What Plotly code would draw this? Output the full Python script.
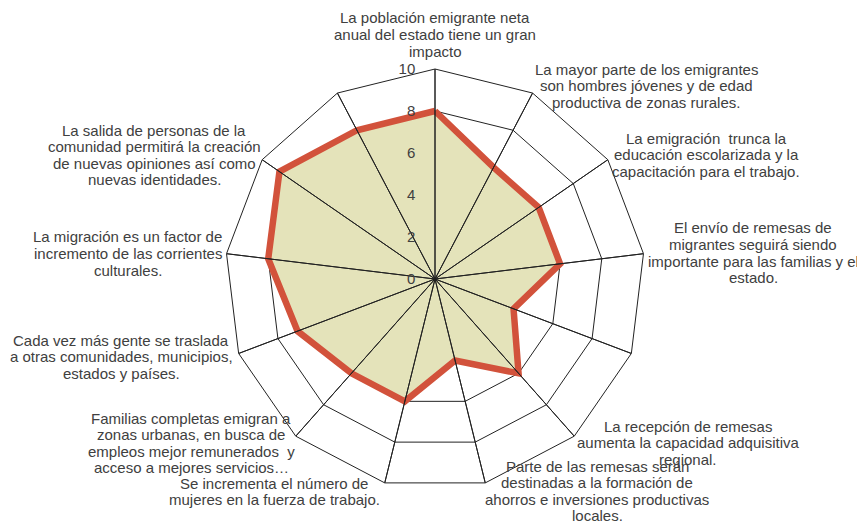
import plotly.graph_objects as go

# 13 ejes; dos de ellos sin etiqueta en el original
categorias = [
    "La población emigrante neta<br>anual del estado tiene un gran<br>impacto",
    "La mayor parte de los emigrantes<br>son hombres jóvenes y de edad<br>productiva de zonas rurales.",
    "La emigración  trunca la<br>educación escolarizada y la<br>capacitación para el trabajo.",
    "El envío de remesas de<br>migrantes seguirá siendo<br>importante para las familias y el<br>estado.",
    " ",
    "La recepción de remesas<br>aumenta la capacidad adquisitiva<br>regional.",
    "Parte de las remesas serán<br>destinadas a la formación de<br>ahorros e inversiones productivas<br>locales.",
    "Se incrementa el número de<br>mujeres en la fuerza de trabajo.",
    "Familias completas emigran a<br>zonas urbanas, en busca de<br>empleos mejor remunerados  y<br>acceso a mejores servicios…",
    "Cada vez más gente se traslada<br>a otras comunidades, municipios,<br>estados y países.",
    "La migración es un factor de<br>incremento de las corrientes<br>culturales.",
    "La salida de personas de la<br>comunidad permitirá la creación<br>de nuevas opiniones así como<br>nuevas identidades.",
    "  ",
]
valores = [8, 6, 6, 6, 4, 6, 4, 6, 6, 7, 8, 9, 8]
ticks_radiales = [0, 2, 4, 6, 8, 10]

# centro de la primera línea de cada etiqueta (px en la imagen 857x521)
pos_etiquetas = [
    (435, 18), (646, 69), (706, 138), (753, 228), None, (688, 426),
    (597, 466), (274, 483), (191, 418), (121, 340), (128, 237), (154, 130), None,
]
INTERLINEA = 16.5

W, H = 857, 521
FUENTE = "Liberation Sans, Arial"
GRIS = "#404040"

fig = go.Figure()

fig.add_trace(go.Scatterpolar(
    r=valores + valores[:1],
    theta=categorias + categorias[:1],
    mode="lines",
    fill="toself",
    fillcolor="#E4E3BA",
    line=dict(color="#D2523B", width=6.5),
    hoverinfo="skip",
))

# radios por encima del relleno
r_rad, t_rad = [], []
for c in categorias:
    r_rad += [0, 10, 0]
    t_rad += [c, c, c]
fig.add_trace(go.Scatterpolar(
    r=r_rad, theta=t_rad, mode="lines",
    line=dict(color="#222222", width=1),
    hoverinfo="skip",
))

anots = []
for txt, p in zip(categorias, pos_etiquetas):
    if p is None:
        continue
    for i, linea in enumerate(txt.split("<br>")):
        anots.append(dict(
            x=p[0] / W, y=1 - (p[1] + i * INTERLINEA) / H,
            xref="paper", yref="paper",
            text=linea, showarrow=False,
            xanchor="center", yanchor="middle",
            font=dict(family=FUENTE, size=15, color=GRIS),
        ))

fig.update_layout(
    width=W, height=H,
    margin=dict(l=0, r=0, t=0, b=0),
    paper_bgcolor="white",
    showlegend=False,
    annotations=anots,
    polar=dict(
        domain=dict(x=[225 / W, 645 / W], y=[1 - 489 / H, 1 - 69 / H]),
        bgcolor="white",
        gridshape="linear",
        angularaxis=dict(
            rotation=90, direction="clockwise",
            showgrid=False, showticklabels=False, ticks="",
            showline=True, linecolor="#222222", linewidth=1,
        ),
        radialaxis=dict(
            range=[0, 10], angle=90, side="counterclockwise", tickangle=90,
            tickvals=ticks_radiales,
            ticks="outside", ticklen=14, tickcolor="rgba(0,0,0,0)",
            showticklabels=True, showline=False,
            tickfont=dict(family=FUENTE, size=15, color=GRIS),
            gridcolor="#222222", gridwidth=1,
        ),
    ),
)

fig.write_html("out.html", config={"displayModeBar": False},
               post_script="document.body.style.margin='0';")
